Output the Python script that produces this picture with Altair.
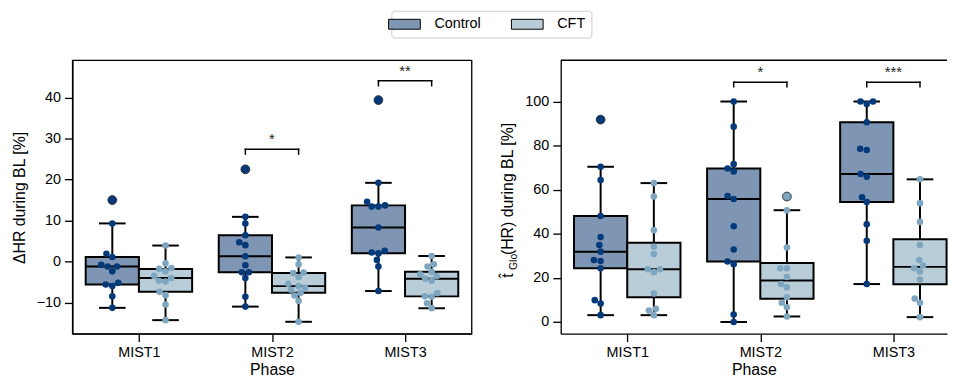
import json
import numpy as np
import pandas as pd
import altair as alt

# ---------------- data ----------------
phases = ["MIST1", "MIST2", "MIST3"]
groups = ["Control", "CFT"]

hr_control_mist1 = [15.0, 9.3, 1.9, 1.1, -0.8, -1.2, -1.2, -2.4, -5.2, -5.6, -6.0, -8.5, -11.3]
hr_cft_mist1 = [3.9, -0.4, -1.6, -1.8, -2.4, -3.5, -4.0, -4.7, -4.9, -7.4, -8.2, -10.5, -14.3]
hr_control_mist2 = [22.5, 10.9, 9.25, 6.4, 4.7, 4.0, 1.3, -0.9, -2.6, -2.6, -4.0, -8.6, -11.0]
hr_cft_mist2 = [1.0, -0.7, -2.7, -2.8, -3.8, -5.4, -6.0, -6.4, -6.9, -7.6, -8.3, -9.6, -14.7]
hr_control_mist3 = [39.4, 19.2, 14.6, 13.7, 13.4, 13.4, 8.3, 2.6, 2.2, 2.0, 0.4, -1.2, -7.2]
hr_cft_mist3 = [1.35, -0.65, -1.2, -2.5, -3.1, -3.6, -4.2, -4.7, -7.7, -8.5, -8.6, -10.2, -11.4]

tglo_control_mist1 = [91.8, 70.4, 64.4, 48.1, 38.5, 34.9, 31.9, 28.1, 27.7, 24.4, 9.9, 8.4, 3.1]
tglo_cft_mist1 = [63.0, 56.9, 41.6, 34.1, 30.8, 23.9, 23.9, 22.6, 12.9, 6.0, 5.2, 3.1]
tglo_control_mist2 = [100.0, 88.6, 71.6, 69.6, 68.3, 57.1, 55.8, 43.4, 32.9, 27.4, 26.2, 3.4, 0.0]
tglo_cft_mist2 = [56.9, 50.7, 33.8, 24.4, 24.4, 20.4, 17.2, 15.7, 11.2, 8.7, 6.7, 2.5]
tglo_control_mist3 = [100.0, 100.0, 98.9, 90.6, 78.6, 78.0, 67.1, 65.9, 56.6, 54.4, 44.3, 36.8, 17.2]
tglo_cft_mist3 = [64.7, 53.9, 45.4, 34.9, 28.1, 25.6, 24.4, 22.9, 19.3, 10.6, 8.7, 2.2]

hr_sig_phase = ["MIST2", "MIST3"]
hr_sig_label = ["*", "**"]
hr_sig_y = [27.4, 44.1]
tglo_sig_phase = ["MIST2", "MIST3"]
tglo_sig_label = ["*", "***"]
tglo_sig_y = [108.7, 108.7]

hr_ticks = [-10, 0, 10, 20, 30, 40]
tglo_ticks = [0, 20, 40, 60, 80, 100]

# ---------------- style ----------------
BOX_COLORS = ["#7f95b4", "#b9cdd9"]
POINT_COLORS = ["#053a7a", "#7fa6c0"]
FONT = "Liberation Sans"
H = 276
BAND = 403 / 3.0
W_LEFT = 403
W_RIGHT = 390
LW = 2.0


def swarm_offsets(vals, pxy, d=6.8):
    vals = np.asarray(vals, float)
    order = np.argsort(vals, kind="stable")
    px_l, py_l = [], []
    out = np.zeros(len(vals))
    for i in order:
        y = vals[i] * pxy
        nb = [(px, py) for px, py in zip(px_l, py_l) if abs(py - y) < d]
        cands = [0.0]
        for px, py in nb:
            dx = np.sqrt(max(d * d - (py - y) ** 2, 0.0))
            cands += [px - dx, px + dx]
        cands.sort(key=lambda c: (round(abs(c), 6), c))
        for c in cands:
            if all((c - px) ** 2 + (y - py) ** 2 >= d * d - 1e-6 for px, py in nb):
                out[i] = c
                break
        px_l.append(out[i])
        py_l.append(y)
    return out


def build_panel(series, ydom, yticks, width, sig_phase, sig_label, sig_y, drop, title_layers, right_panel):
    pxy = H / (ydom[1] - ydom[0])
    pts, boxes, fliers = [], [], []
    for pi in range(len(phases)):
        for gi, g in enumerate(groups):
            vals = np.asarray(series[gi][pi], float)
            center = pi + (-0.2 if gi == 0 else 0.2)
            q1, med, q3 = np.percentile(vals, [25, 50, 75])
            iqr = q3 - q1
            lo_f, hi_f = q1 - 1.5 * iqr, q3 + 1.5 * iqr
            inside = vals[(vals >= lo_f) & (vals <= hi_f)]
            boxes.append(dict(group=g, xl=center - 0.2, xr=center + 0.2, xc=center,
                              cl=center - 0.1, cr=center + 0.1, q1=q1, med=med, q3=q3,
                              wlo=inside.min(), whi=inside.max()))
            for f in vals[(vals < lo_f) | (vals > hi_f)]:
                fliers.append(dict(x=center, y=f, fc=POINT_COLORS[gi]))
            offs = swarm_offsets(vals, pxy)
            for v, o in zip(vals, offs):
                pts.append(dict(x=center + o / BAND, y=v, pc=POINT_COLORS[gi]))
    box_df = pd.DataFrame(boxes)
    pts_df = pd.DataFrame(pts)
    fl_df = pd.DataFrame(fliers)

    br, legs = [], []
    for ph, lab, yv in zip(sig_phase, sig_label, sig_y):
        pi = phases.index(ph)
        br.append(dict(xa=pi - 0.2, xb=pi + 0.2, xm=pi, yt=yv, lab=lab))
        legs.append(dict(x=pi - 0.2, yt=yv, yb=yv - drop))
        legs.append(dict(x=pi + 0.2, yt=yv, yb=yv - drop))
    br_df = pd.DataFrame(br)
    leg_df = pd.DataFrame(legs)

    xs = alt.Scale(domain=[-0.5, -0.5 + width / BAND], nice=False, zero=False)
    ys = alt.Scale(domain=ydom, nice=False, zero=False)
    label_expr = json.dumps(phases) + "[datum.value]"
    xaxis = alt.Axis(values=[0, 1, 2], labelExpr=label_expr, title="Phase", grid=False)
    yaxis = alt.Axis(values=yticks, title=None, grid=False)

    whisk = alt.Chart(box_df).mark_rule(color="black", strokeWidth=LW).encode(
        x=alt.X("xc:Q", scale=xs, axis=xaxis), y=alt.Y("wlo:Q", scale=ys, axis=yaxis), y2="whi:Q")
    cap_lo = alt.Chart(box_df).mark_rule(color="black", strokeWidth=LW).encode(
        x="cl:Q", x2="cr:Q", y="wlo:Q")
    cap_hi = alt.Chart(box_df).mark_rule(color="black", strokeWidth=LW).encode(
        x="cl:Q", x2="cr:Q", y="whi:Q")
    box = alt.Chart(box_df).mark_rect(stroke="black", strokeWidth=LW, opacity=1).encode(
        x="xl:Q", x2="xr:Q", y="q1:Q", y2="q3:Q",
        color=alt.Color("group:N", scale=alt.Scale(domain=groups, range=BOX_COLORS),
                        legend=alt.Legend(orient="none", legendX=322, legendY=-50,
                                          direction="horizontal", title=None,
                                          symbolType="M-3.2,-1H3.2V1H-3.2Z",
                                          symbolSize=100, symbolStrokeColor="black",
                                          symbolStrokeWidth=1, symbolOpacity=1,
                                          labelFontSize=14.5, labelOffset=23,
                                          columnPadding=28, padding=6,
                                          strokeColor="#cccccc", cornerRadius=3,
                                          fillColor="white", labelColor="black",
                                          labelFont=FONT)))
    med = alt.Chart(box_df).mark_rule(color="black", strokeWidth=2).encode(
        x="xl:Q", x2="xr:Q", y="med:Q")
    fl = alt.Chart(fl_df).mark_circle(size=78, opacity=1, stroke="#333333", strokeWidth=1).encode(
        x="x:Q", y="y:Q", fill=alt.Fill("fc:N", scale=None))
    sw = alt.Chart(pts_df).mark_circle(size=44, opacity=1).encode(
        x="x:Q", y="y:Q", fill=alt.Fill("pc:N", scale=None))
    bh = alt.Chart(br_df).mark_rule(color="black", strokeWidth=1.5, strokeCap="square").encode(
        x="xa:Q", x2="xb:Q", y="yt:Q")
    bl = alt.Chart(leg_df).mark_rule(color="black", strokeWidth=1.5, strokeCap="square").encode(
        x="x:Q", y="yb:Q", y2="yt:Q")
    stars = alt.Chart(br_df).mark_text(baseline="alphabetic", dy=-5.3, fontSize=15,
                                       font=FONT, color="#222222").encode(
        x="xm:Q", y="yt:Q", text="lab:N")
    layers = [whisk, cap_lo, cap_hi, box, med, fl, sw, bh, bl, stars] + title_layers
    if right_panel:
        top = alt.Chart(pd.DataFrame({"k": [0]})).mark_rule(color="black", strokeWidth=1.33).encode(
            x=alt.value(0), x2=alt.value(width), y=alt.value(0))
        layers.append(top)
    ch = alt.layer(*layers).properties(width=width, height=H)
    if right_panel:
        ch = ch.properties(view=alt.ViewBackground(stroke="transparent"))
    return ch


def vtext(txt, x, y, size, align):
    return alt.Chart(pd.DataFrame({"t": [txt]})).mark_text(
        angle=270, align=align, baseline="alphabetic", fontSize=size, font=FONT, color="black"
    ).encode(text="t:N", x=alt.value(x), y=alt.value(y))


left_title = [vtext("ΔHR during BL [%]", -48, H / 2 + 1, 16, "center")]
right_title = [
    vtext("(HR) during BL [%]", -47.7, 196.7, 16, "left"),
    vtext("Glo", -44.5, 211.7, 10.5, "left"),
    vtext("t\u0302", -47.7, 219.5, 16, "left"),
]

left = build_panel(
    [[hr_control_mist1, hr_control_mist2, hr_control_mist3],
     [hr_cft_mist1, hr_cft_mist2, hr_cft_mist3]],
    [-17.6, 49.1], hr_ticks, W_LEFT, hr_sig_phase, hr_sig_label, hr_sig_y, 1.2, left_title, False)
right = build_panel(
    [[tglo_control_mist1, tglo_control_mist2, tglo_control_mist3],
     [tglo_cft_mist1, tglo_cft_mist2, tglo_cft_mist3]],
    [-5.3, 118.7], tglo_ticks, W_RIGHT, tglo_sig_phase, tglo_sig_label, tglo_sig_y, 2.0, right_title, True)

chart = alt.hconcat(left, right, spacing=90, bounds="flush").properties(
    padding={"left": 3, "top": 0, "right": 0, "bottom": 0}
).configure(font=FONT).configure_view(stroke="black", strokeWidth=1.33).configure_axis(
    labelFont=FONT, labelFontSize=14.5, labelColor="black", labelPadding=4,
    tickSize=8, tickWidth=1.33, tickColor="black",
    domainColor="black", domainWidth=1.33,
    titleFont=FONT, titleFontSize=16, titleFontWeight="normal", titleColor="black", titlePadding=3,
)

chart.save("out.html", embed_options={"renderer": "svg", "actions": False})
